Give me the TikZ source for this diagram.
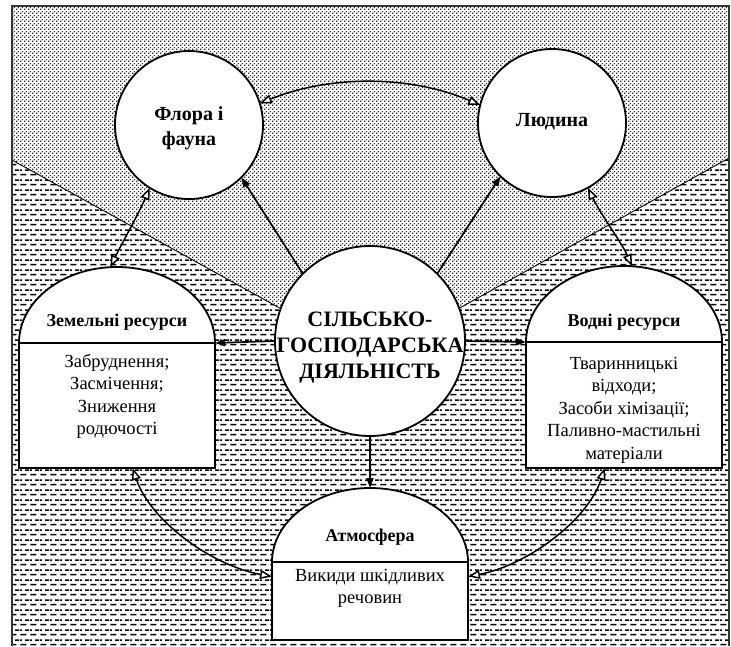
\documentclass[tikz,border=0pt]{standalone}
\usepackage{fontspec}
\setmainfont{Liberation Serif}
\usetikzlibrary{arrows.meta,patterns,shapes.geometric}

\pgfdeclarepatternformonly{mydots}{\pgfqpoint{0pt}{0pt}}{\pgfqpoint{4pt}{4pt}}{\pgfqpoint{4pt}{4pt}}{%
  \pgfpathrectangle{\pgfqpoint{0.3pt}{0.3pt}}{\pgfqpoint{1.4pt}{1.4pt}}%
  \pgfpathrectangle{\pgfqpoint{2.3pt}{2.3pt}}{\pgfqpoint{1.4pt}{1.4pt}}%
  \pgfusepath{fill}}
\pgfdeclarepatternformonly{mydashes}{\pgfqpoint{0pt}{0pt}}{\pgfqpoint{10pt}{10pt}}{\pgfqpoint{10pt}{10pt}}{%
  \pgfpathrectangle{\pgfqpoint{0.5pt}{1.8pt}}{\pgfqpoint{6.5pt}{1.5pt}}%
  \pgfpathrectangle{\pgfqpoint{5.5pt}{6.8pt}}{\pgfqpoint{4.5pt}{1.5pt}}%
  \pgfpathrectangle{\pgfqpoint{0pt}{6.8pt}}{\pgfqpoint{2pt}{1.5pt}}%
  \pgfusepath{fill}}

\begin{document}
\begin{tikzpicture}[x=1pt,y=-1pt,
  circ/.style={circle,draw,line width=1.8pt,fill=white,inner sep=0pt,outer sep=0pt},
  hdr/.style={ellipse,draw,line width=1.8pt,fill=white,inner sep=0pt,outer sep=0pt,minimum width=196pt},
  bodyrect/.style={rectangle,draw,line width=1.8pt,fill=white,inner sep=0pt,outer sep=0pt,minimum width=196pt},
  ctxt/.style={font=\fontsize{20}{25}\selectfont\bfseries,align=center,inner sep=0pt},
  bigtxt/.style={font=\fontsize{22}{26}\selectfont\bfseries,align=center,inner sep=0pt},
  htxt/.style={font=\fontsize{18}{22}\selectfont\bfseries,inner sep=0pt},
  btxt/.style={font=\fontsize{18.5}{22.5}\selectfont,align=center,inner sep=0pt,anchor=north},
  blk/.style={line width=1.7pt,-{Triangle[length=10pt,width=7pt]}},
  dbl/.style={line width=1.5pt,{Triangle[fill=white,length=12pt,width=9pt]}-{Triangle[fill=white,length=12pt,width=9pt]}}
]
\useasboundingbox (0,0) rectangle (731,646);
% background regions
\fill[pattern=mydots, pattern color=black!85] (12,6) -- (729,6) -- (729,158) -- (370,358) -- (12,160) -- cycle;
\fill[pattern=mydashes, pattern color=black] (12,160) -- (370,358) -- (729,158) -- (729,646) -- (12,646) -- cycle;
\draw[line width=0.9pt] (12,160) -- (370,358) -- (729,158);
\draw[line width=2.2pt, black!80] (12,646) -- (12,6) -- (729,6) -- (729,646);

% circles
\node[circ, minimum size=148pt] (flora) at (189,125) {};
\node[ctxt] (floratxt) at (189,128) {Флора і\\фауна};
\node[circ, minimum size=148pt] (lyud) at (552,123) {};
\node[ctxt] (lyudtxt) at (552,122) {Людина};
\node[circ, minimum size=190pt] (sg) at (370,341) {};
\node[bigtxt] (sgtxt) at (370,348) {СІЛЬСЬКО-\\ГОСПОДАРСЬКА\\ДІЯЛЬНІСТЬ};

% arched boxes
\node[hdr, minimum height=152pt] (zemh) at (117,343) {};
\node[bodyrect, minimum height=125pt] (zemb) at (117,405.5) {};
\node[htxt] (zemlbl) at (117,322) {Земельні ресурси};
\node[btxt] (zemtxt) at (117,354) {Забруднення;\\Засмічення;\\Зниження\\родючості};

\node[hdr, minimum height=152pt] (vodh) at (624,342) {};
\node[bodyrect, minimum height=126pt] (vodb) at (624,405) {};
\node[htxt] (vodlbl) at (624,322) {Водні ресурси};
\node[btxt] (vodtxt) at (624,357) {Тваринницькі\\відходи;\\Засоби хімізації;\\Паливно-мастильні\\матеріали};

\node[hdr, minimum height=148pt] (atmh) at (370,562) {};
\node[bodyrect, minimum height=78pt] (atmb) at (370,601) {};
\node[htxt] (atmlbl) at (370,537) {Атмосфера};
\node[btxt] (atmtxt) at (370,569) {Викиди шкідливих\\речовин};

% black arrows
\draw[blk] (sg.135) -- (flora.-45);
\draw[blk] (sg.45) -- (lyud.-134);
\draw[blk] (sg.west) -- (zemb.north east);
\draw[blk] (sg.east) -- (vodb.north west);
\draw[blk] (sg.south) -- (atmh.north);

% double open arrows
\draw[dbl] (flora.17) .. controls (330,75) and (410,75) .. (lyud.166);
\draw[dbl] (flora.-122) .. controls (138,215) and (121,245) .. (zemh.95);
\draw[dbl] (lyud.-61) .. controls (601,215) and (622,243) .. (vodh.84);
\draw[dbl] (zemb.-76) .. controls (150,520) and (210,565) .. (atmb.166);
\draw[dbl] (vodb.-107) .. controls (588,520) and (528,565) .. (atmb.14);
\end{tikzpicture}
\end{document}
